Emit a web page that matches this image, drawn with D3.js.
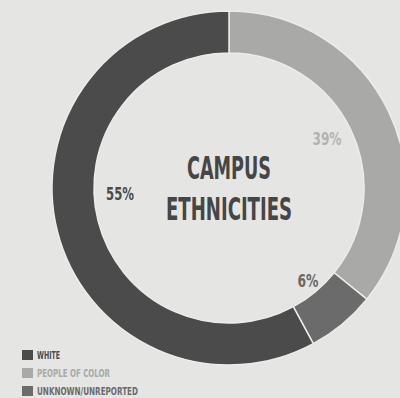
<!DOCTYPE html>
<html>
<head>
<meta charset="utf-8">
<script src="https://cdn.jsdelivr.net/npm/d3@7/dist/d3.min.js"></script>
<style>
  html, body { margin: 0; padding: 0; background: #e5e5e3; }
  svg { display: block; }
  text { font-family: "DejaVu Sans Condensed", "Liberation Sans Narrow", sans-serif; font-weight: bold; }
</style>
</head>
<body>
<svg width="400" height="398"></svg>
<script>
// arc shares as drawn, clockwise from 12 o'clock
var categories = ["PEOPLE OF COLOR", "UNKNOWN/UNREPORTED", "WHITE"];
var shares = [35.8, 6.3, 57.9];
var pctLabels = ["39%", "6%", "55%"];
var colors = ["#a9a9a7", "#6b6b6b", "#4b4b4b"];
var legendOrder = ["WHITE", "PEOPLE OF COLOR", "UNKNOWN/UNREPORTED"];

var svg = d3.select("svg"),
    cx = 229, cy = 188,
    outerR = 177, innerR = 135;

var data = categories.map(function(c, i) {
    return {name: c, value: shares[i], label: pctLabels[i], color: colors[i]};
});

var pie = d3.pie().sort(null).value(function(d) { return d.value; });
var arc = d3.arc().innerRadius(innerR).outerRadius(outerR);

var g = svg.append("g")
    .attr("transform", "translate(" + cx + "," + cy + ")");

g.selectAll("path.slice")
    .data(pie(data))
  .enter().append("path")
    .attr("class", "slice")
    .attr("d", arc)
    .attr("fill", function(d) { return d.data.color; })
    .attr("stroke", "#ecece9")
    .attr("stroke-width", 1.5);

// percentage labels, inside the hole
var labelPos = {
    "39%": [98, -43, 29],
    "6%": [79, 99, 21],
    "55%": [-109, 12, 28]
};
var labelCol = {"39%": "#b3b3b1", "6%": "#686868", "55%": "#4b4b4b"};
g.selectAll("text.pct")
    .data(data)
  .enter().append("text")
    .attr("class", "pct")
    .attr("x", function(d) { return labelPos[d.label][0]; })
    .attr("y", function(d) { return labelPos[d.label][1]; })
    .attr("text-anchor", "middle")
    .attr("font-size", 17)
    .attr("textLength", function(d) { return labelPos[d.label][2]; })
    .attr("lengthAdjust", "spacingAndGlyphs")
    .attr("fill", function(d) { return labelCol[d.label]; })
    .text(function(d) { return d.label; });

// title
g.append("text")
    .attr("x", 0).attr("y", -9)
    .attr("text-anchor", "middle")
    .attr("font-size", 32)
    .attr("fill", "#464646")
    .attr("textLength", 84)
    .attr("lengthAdjust", "spacingAndGlyphs")
    .text("CAMPUS");
g.append("text")
    .attr("x", 0).attr("y", 32)
    .attr("text-anchor", "middle")
    .attr("font-size", 32)
    .attr("fill", "#464646")
    .attr("textLength", 126)
    .attr("lengthAdjust", "spacingAndGlyphs")
    .text("ETHNICITIES");

// legend
var legendW = {"WHITE": 23, "PEOPLE OF COLOR": 73, "UNKNOWN/UNREPORTED": 101};
var legend = svg.append("g").attr("transform", "translate(22,350)");
var item = legend.selectAll("g.item")
    .data(legendOrder)
  .enter().append("g")
    .attr("class", "item")
    .attr("transform", function(d, i) { return "translate(0," + (i * 18) + ")"; });
item.append("rect")
    .attr("width", 11).attr("height", 10)
    .attr("fill", function(d) { return colors[categories.indexOf(d)]; });
item.append("text")
    .attr("x", 15).attr("y", 9)
    .attr("font-size", 10.5)
    .attr("textLength", function(d) { return legendW[d]; })
    .attr("lengthAdjust", "spacingAndGlyphs")
    .attr("fill", function(d) { return colors[categories.indexOf(d)]; })
    .text(function(d) { return d; });
</script>
</body>
</html>
